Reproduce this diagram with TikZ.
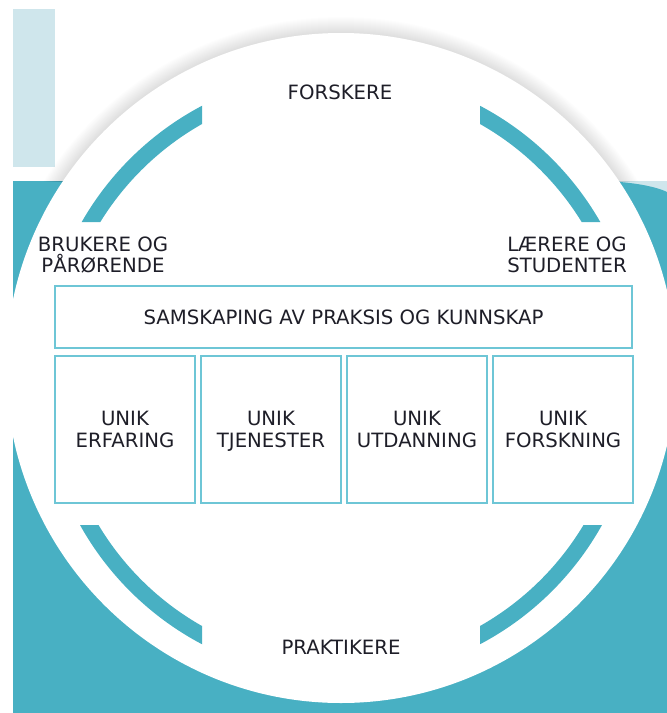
\documentclass[tikz,border=0pt]{standalone}
\usepackage{fontspec}
\setmainfont{DejaVu Sans}
\definecolor{tealbg}{HTML}{48B0C3}
\definecolor{paleblue}{HTML}{CFE6EC}
\definecolor{boxline}{HTML}{6EC6D6}
\definecolor{inktext}{HTML}{1E1E28}

\begin{document}
\begin{tikzpicture}[x=1pt,y=-1pt]
    \tikzstyle{roletext}=[text=inktext, align=center, inner sep=0pt,
      font=\fontsize{19.7}{21.5}\selectfont]
    \tikzstyle{unitbox}=[draw=boxline, line width=1.3pt, fill=white,
      minimum width=140pt, minimum height=147pt, roletext]
    \useasboundingbox (0,0) rectangle (667,713);
    \fill[paleblue] (13,9) rectangle (55,167);
    \fill[paleblue] (600,181) rectangle (667,200);
    \fill[tealbg] (13,181) -- (605,181) .. controls (630,182) and (655,186) .. (667,192)
      -- (667,713) -- (13,713) -- cycle;
    \begin{scope}
      \clip (0,0) rectangle (667,181);
      \foreach \k in {1,...,16}
        \fill[black, opacity=0.009] (341,368) circle (335+\k);
    \end{scope}
    \fill[white] (341,368) circle (335);
    \begin{scope}
      \clip (0,0) rectangle (202,222) (480,0) rectangle (667,222);
      \fill[tealbg, even odd rule] (341,370) circle (298.5) (341,370) circle (282.5);
    \end{scope}
    \begin{scope}
      \clip (0,525) rectangle (202,713) (480,525) rectangle (667,713);
      \fill[tealbg, even odd rule] (341,380) circle (298.5) (341,380) circle (282.5);
    \end{scope}
    \draw (340,92)  node[roletext] (forskere) {FORSKERE};
    \draw (103,255) node[roletext] (brukere) {BRUKERE OG\\PÅRØRENDE};
    \draw (567,255) node[roletext] (laerere) {LÆRERE OG\\STUDENTER};
    \draw (341,647) node[roletext] (praktikere) {PRAKTIKERE};
    \draw (343.5,317) node[unitbox, minimum width=577pt, minimum height=62pt]
      (samskaping) {SAMSKAPING AV PRAKSIS OG KUNNSKAP};
    \draw (125,429.5) node[unitbox] (erfaring) {UNIK\\ERFARING};
    \draw (271,429.5) node[unitbox] (tjenester) {UNIK\\\smash{TJENESTER}};
    \draw (417,429.5) node[unitbox] (utdanning) {UNIK\\UTDANNING};
    \draw (563,429.5) node[unitbox] (forskning) {UNIK\\FORSKNING};
  \end{tikzpicture}
\end{document}
